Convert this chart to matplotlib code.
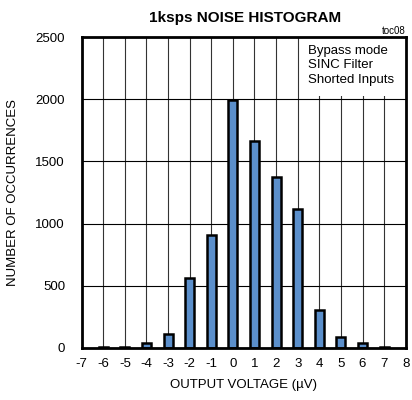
import numpy as np
import matplotlib.pyplot as plt

# 数据
voltages = [-6, -5, -4, -3, -2, -1, 0, 1, 2, 3, 4, 5, 6, 7]
counts = [5, 10, 40, 110, 560, 905, 1990, 1665, 1375, 1115, 305, 85, 38, 8]
x_ticks = list(range(-7, 9))
y_ticks = [0, 500, 1000, 1500, 2000, 2500]
notes = ['Bypass mode', 'SINC Filter', 'Shorted Inputs']

plt.rcParams['font.family'] = ['Liberation Sans', 'DejaVu Sans']
plt.rcParams['axes.unicode_minus'] = False

fig = plt.figure(figsize=(4.12, 4.0), dpi=100)
ax = fig.add_axes([81.7 / 412, 1 - 348 / 400, 324 / 412, 311 / 400])

ax.bar(voltages, counts, width=0.42, color='#5B8FCB', edgecolor='black',
       linewidth=1.8, zorder=3)

ax.set_xlim(-7, 8)
ax.set_ylim(0, 2500)
ax.set_xticks(x_ticks)
ax.set_yticks(y_ticks)
ax.tick_params(axis='x', length=0, labelsize=9.5, pad=7)
ax.tick_params(axis='y', length=0, labelsize=9.5, pad=12)
ax.grid(True, axis='y', color='black', linewidth=0.8, zorder=1)
ax.grid(True, axis='x', color='#333333', linewidth=0.8, zorder=1)
ax.set_axisbelow(True)
for s in ax.spines.values():
    s.set_linewidth(2)
    s.set_zorder(5)

ax.set_xlabel('OUTPUT VOLTAGE (\u00b5V)', fontsize=9.5, labelpad=7)
ax.set_ylabel('NUMBER OF OCCURRENCES', fontsize=9.5, labelpad=12)
fig.text(245 / 412, 1 - 18 / 400, '1ksps NOISE HISTOGRAM', ha='center',
         va='center', fontsize=11, fontweight='bold')
fig.text(406 / 412, 1 - 31 / 400, 'toc08', ha='right', va='center', fontsize=7)

# 白底说明框，遮住右上角网格线
ax.add_patch(plt.Rectangle((0.683, 0.81), 0.317, 0.19, transform=ax.transAxes,
                           facecolor='white', edgecolor='none', zorder=2))
ax.text(0.698, 0.975, '\n'.join(notes), transform=ax.transAxes,
        ha='left', va='top', fontsize=9.5, linespacing=1.3, zorder=6)

fig.savefig('out.png', dpi=100)
